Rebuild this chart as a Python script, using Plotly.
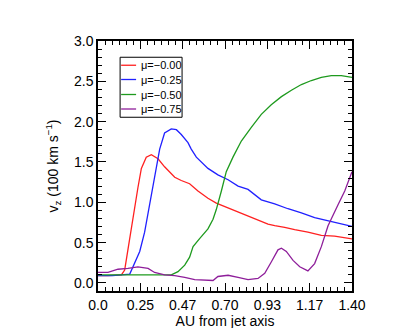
import plotly.graph_objects as go

# distance from jet axis (AU) and v_z (100 km/s) for each mu
red_x = [0.0, 0.055, 0.129, 0.147, 0.169, 0.193, 0.220, 0.239, 0.266, 0.294, 0.331, 0.367,
         0.404, 0.423, 0.459, 0.505, 0.551, 0.606, 0.652, 0.717, 0.790, 0.863, 0.937, 0.974,
         1.029, 1.084, 1.157, 1.231, 1.304, 1.40]
red_y = [0.09, 0.09, 0.10, 0.16, 0.47, 0.83, 1.18, 1.42, 1.56, 1.59, 1.54, 1.44,
         1.36, 1.31, 1.27, 1.23, 1.14, 1.05, 0.99, 0.93, 0.86, 0.80, 0.73, 0.71,
         0.69, 0.66, 0.63, 0.59, 0.58, 0.545]

blue_x = [0.0, 0.08, 0.175, 0.202, 0.230, 0.257, 0.285, 0.312, 0.340, 0.367, 0.404, 0.432,
          0.459, 0.496, 0.514, 0.542, 0.570, 0.606, 0.661, 0.717, 0.772, 0.827, 0.900, 0.974,
          1.047, 1.121, 1.194, 1.268, 1.341, 1.40]
blue_y = [0.09, 0.09, 0.11, 0.24, 0.39, 0.63, 0.99, 1.34, 1.66, 1.86, 1.91, 1.90,
          1.84, 1.74, 1.66, 1.56, 1.50, 1.42, 1.34, 1.28, 1.20, 1.16, 1.03, 0.98,
          0.92, 0.87, 0.81, 0.77, 0.73, 0.70]

green_x = [0.0, 0.2, 0.404, 0.441, 0.478, 0.505, 0.524, 0.560, 0.606, 0.634, 0.652, 0.680,
           0.707, 0.744, 0.790, 0.845, 0.900, 0.955, 1.011, 1.066, 1.121, 1.176, 1.231, 1.286,
           1.341, 1.40]
green_y = [0.10, 0.10, 0.10, 0.14, 0.22, 0.32, 0.45, 0.55, 0.67, 0.79, 0.91, 1.14,
           1.38, 1.56, 1.76, 1.93, 2.09, 2.21, 2.31, 2.39, 2.46, 2.51, 2.55, 2.57,
           2.57, 2.55]

purple_x = [0.0, 0.055, 0.110, 0.165, 0.220, 0.276, 0.312, 0.367, 0.423, 0.478, 0.533, 0.588,
            0.634, 0.661, 0.717, 0.772, 0.827, 0.882, 0.919, 0.955, 0.992, 1.011, 1.038, 1.075,
            1.112, 1.157, 1.194, 1.231, 1.268, 1.323, 1.360, 1.40]
purple_y = [0.13, 0.13, 0.17, 0.18, 0.20, 0.18, 0.13, 0.10, 0.09, 0.07, 0.04, 0.03,
            0.03, 0.08, 0.095, 0.07, 0.04, 0.055, 0.12, 0.26, 0.41, 0.43, 0.39, 0.28,
            0.20, 0.15, 0.24, 0.45, 0.71, 0.97, 1.14, 1.38]

labels = ["μ=−0.00", "μ=−0.25", "μ=−0.50", "μ=−0.75"]
colors = ["#ff2020", "#2020ff", "#1e9a1e", "#8e1e9a"]
xs_all = [red_x, blue_x, green_x, purple_x]
ys_all = [red_y, blue_y, green_y, purple_y]

x_tickvals = [i * 1.4 / 6 for i in range(7)]
x_ticktext = ["0.0", "0.25", "0.47", "0.70", "0.93", "1.17", "1.40"]

fig = go.Figure()
for name, xs, ys, color in zip(labels, xs_all, ys_all, colors):
    fig.add_trace(go.Scatter(x=xs, y=ys, mode="lines", name=name,
                             line=dict(color=color, width=1.3)))

# compact boxed legend like the IDL original (plotly's own legend rows are too tall)
fig.add_shape(type="rect", xref="paper", yref="paper", x0=0.087, x1=0.331, y0=0.695, y1=0.935,
              line=dict(color="black", width=1), fillcolor="white", layer="above")
row_y = [0.903, 0.846, 0.786, 0.728]
for name, color, ry in zip(labels, colors, row_y):
    fig.add_shape(type="line", xref="paper", yref="paper", x0=0.091, x1=0.150, y0=ry, y1=ry,
                  line=dict(color=color, width=1.3), layer="above")
    fig.add_annotation(xref="paper", yref="paper", x=0.163, y=ry, text=name, showarrow=False,
                       xanchor="left", yanchor="middle", font=dict(size=11, color="black"))

axis_common = dict(
    showline=True, linecolor="black", linewidth=1.5, mirror="ticks",
    ticks="inside", ticklen=8, tickwidth=1.2, tickcolor="black",
    showgrid=False, zeroline=False,
    tickfont=dict(size=14, color="black"),
)

fig.update_xaxes(
    range=[0, 1.4], tickmode="array", tickvals=x_tickvals, ticktext=x_ticktext,
    minor=dict(tickmode="linear", tick0=0, dtick=1.4 / 36, ticks="inside", ticklen=4,
               tickcolor="black", tickwidth=1),
    title=dict(text="AU from jet axis", font=dict(size=14, color="black"), standoff=2),
    **axis_common,
)
fig.update_yaxes(
    range=[-0.1, 3.0], tickmode="linear", tick0=0, dtick=0.5, tickformat=".1f",
    minor=dict(tickmode="linear", tick0=0, dtick=0.1, ticks="inside", ticklen=4,
               tickcolor="black", tickwidth=1),
    title=dict(text="v<sub>z</sub> (100 km s<sup>−1</sup>)", font=dict(size=14, color="black"),
               standoff=12),
    **axis_common,
)

fig.update_layout(
    width=409, height=328,
    margin=dict(l=90, r=65, t=33, b=33),
    paper_bgcolor="white", plot_bgcolor="white",
    font=dict(family="Liberation Sans, Arial, sans-serif", color="black"),
    showlegend=False,
)

fig.write_html("out.html")
